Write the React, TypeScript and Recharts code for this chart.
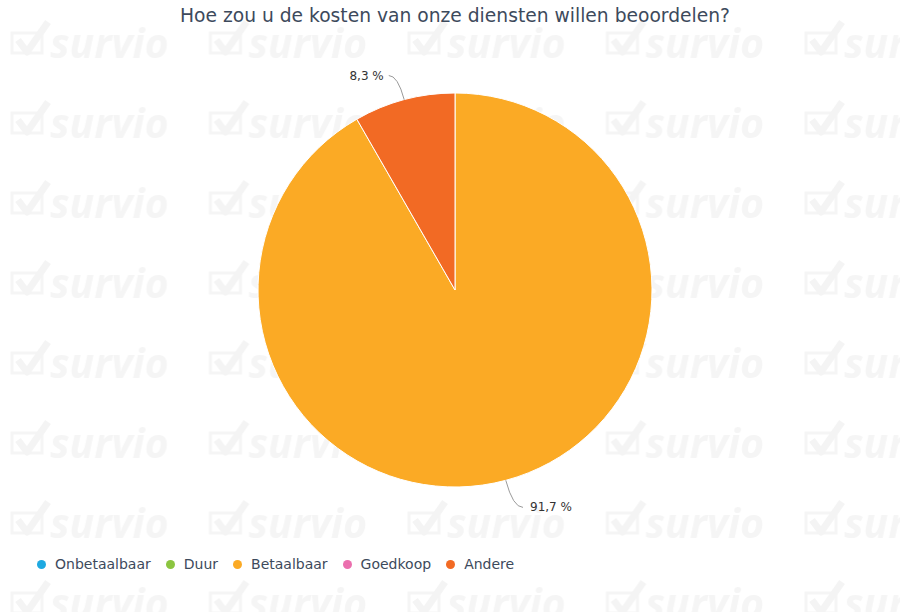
import { PieChart, Pie, Cell, Legend } from "recharts";

const categories = ["Onbetaalbaar", "Duur", "Betaalbaar", "Goedkoop", "Andere"];
const shares = [0, 0, 91.7, 0, 8.3];
const colors = ["#1ea9e1", "#8cc540", "#fbaa25", "#eb6fae", "#f26a24"];

const title = "Hoe zou u de kosten van onze diensten willen beoordelen?";
const font = "'DejaVu Sans', sans-serif";

const data = categories.map((name, i) => ({ name, value: shares[i] }));
const RADIAN = Math.PI / 180;

function formatPct(p: number) {
  return `${(p * 100).toFixed(1).replace(".", ",")} %`;
}

function SliceLabel(props: any) {
  const { cx, cy, midAngle, outerRadius, percent, value } = props;
  if (!value) return null;
  const cos = Math.cos(-midAngle * RADIAN);
  const sin = Math.sin(-midAngle * RADIAN);
  const sx = cx + outerRadius * cos;
  const sy = cy + outerRadius * sin;
  const right = cos >= 0;
  const dist = right ? 28 : 25;
  const mx = cx + (outerRadius + dist) * cos;
  const my = cy + (outerRadius + dist) * sin;
  const ex = mx + (right ? 10 : -9);
  return (
    <g>
      <path d={`M${sx},${sy} Q${mx},${my} ${ex},${my}`} stroke="#9a9a9a" strokeWidth={1} fill="none" />
      <text
        x={ex + (right ? 7 : -5)}
        y={my}
        dy={4}
        textAnchor={right ? "start" : "end"}
        fontSize={12}
        fontFamily={font}
        fill="#333"
      >
        {formatPct(percent)}
      </text>
    </g>
  );
}

function LegendContent() {
  return (
    <div style={{ display: "flex", alignItems: "center", fontFamily: font, fontSize: 14, color: "#3d4a5c" }}>
      {categories.map((name, i) => (
        <div key={name} style={{ display: "flex", alignItems: "center", marginRight: 15 }}>
          <span
            style={{
              width: 9,
              height: 9,
              borderRadius: "50%",
              background: colors[i],
              display: "inline-block",
              marginRight: 9,
            }}
          />
          <span>{name}</span>
        </div>
      ))}
    </div>
  );
}

function Watermark() {
  return (
    <svg width={900} height={612} style={{ position: "absolute", left: 0, top: 0 }}>
      <defs>
        <pattern id="wm" x={0} y={0} width={198.5} height={80} patternUnits="userSpaceOnUse">
          <rect x={12} y={33} width={30} height={20} fill="none" stroke="#f5f5f5" strokeWidth={3} />
          <path d="M18,40 L27,52 L48,22" fill="none" stroke="#f4f4f4" strokeWidth={7} strokeLinejoin="round" />
          <text
            x={50}
            y={58}
            fontFamily="'Open Sans', sans-serif"
            fontWeight={700}
            fontStyle="italic"
            fontSize={41}
            fill="#f5f5f5"
          >
            survio
          </text>
        </pattern>
      </defs>
      <rect width={900} height={612} fill="url(#wm)" />
    </svg>
  );
}

export default function App() {
  return (
    <div style={{ position: "relative", width: 900, height: 612, background: "#fff", overflow: "hidden" }}>
      <style>{`body{margin:0}`}</style>
      <Watermark />
      <div
        style={{
          position: "absolute",
          top: 5,
          left: 0,
          width: 910,
          textAlign: "center",
          fontFamily: font,
          fontSize: 18.7,
          color: "#3d4a5c",
          whiteSpace: "nowrap",
        }}
      >
        {title}
      </div>
      <div style={{ position: "absolute", left: 0, top: 0 }}>
        <PieChart width={900} height={612} margin={{ top: 0, right: 0, bottom: 0, left: 0 }}>
          <Pie
            data={data}
            dataKey="value"
            nameKey="name"
            cx={455}
            cy={290}
            outerRadius={197}
            startAngle={90}
            endAngle={-270}
            stroke="#fff"
            strokeWidth={1}
            label={SliceLabel}
            labelLine={false}
            isAnimationActive={false}
          >
            {data.map((d, i) => (
              <Cell key={d.name} fill={colors[i]} />
            ))}
          </Pie>
          <Legend
            content={<LegendContent />}
            wrapperStyle={{ position: "absolute", left: 37, top: 556, width: "auto" }}
          />
        </PieChart>
      </div>
    </div>
  );
}
